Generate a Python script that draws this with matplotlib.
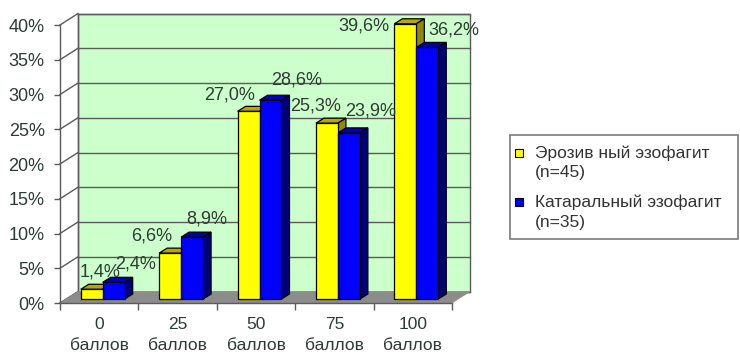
import matplotlib
matplotlib.use("Agg")
import matplotlib.pyplot as plt
from matplotlib.patches import Polygon, Rectangle

plt.rcParams['font.family'] = ['Liberation Sans', 'DejaVu Sans']

categories = ["0\nбаллов", "25\nбаллов", "50\nбаллов", "75\nбаллов", "100\nбаллов"]
erosive = [1.4, 6.6, 27.0, 25.3, 39.6]
catarrhal = [2.4, 8.9, 28.6, 23.9, 36.2]
series_names = ["Эрозив ный эзофагит\n(n=45)", "Катаральный эзофагит\n(n=35)"]
y_ticks = [0, 5, 10, 15, 20, 25, 30, 35, 40]

# label offsets in pixels (dx, dy) relative to the top of the front face
erosive_label_offsets = [(8, 17), (-18, 17), (-19, 16), (-11, 17), (-41, -2)]
catarrhal_label_offsets = [(22, 18), (15, 18), (26, 20), (22, 22), (27, 17)]

W, H, DPI = 740, 354, 100
fig = plt.figure(figsize=(W / DPI, H / DPI), dpi=DPI)
fig.patch.set_facecolor("white")

x0, x1, y0, y1 = 60, 452, 303, 25
ax = fig.add_axes([x0 / W, 1 - y0 / H, (x1 - x0) / W, (y0 - y1) / H])
ax.set_xlim(0, len(categories))
ax.set_ylim(0, 40)
ax.patch.set_visible(False)

px_x = (x1 - x0) / len(categories)
px_y = (y0 - y1) / 40.0

# depth offsets of the back wall, bars and bar faces (data units)
WX, WY = 18 / px_x, 11.5 / px_y
BY = 4 / px_y
SDX, SDY = 8 / px_x, 5 / px_y

grid_c = "#5a5a5a"
text_c = "#2e3b34"
n = len(categories)

# back wall
ax.add_patch(Polygon([(WX, WY), (n + WX, WY), (n + WX, 40 + WY), (WX, 40 + WY)],
                     closed=True, facecolor="#ccffcc", edgecolor=grid_c,
                     lw=1.0, clip_on=False, zorder=0))
# gridlines on the back wall and the side wall
for t in y_ticks:
    ax.plot([WX, n + WX], [t + WY, t + WY], color=grid_c, lw=1.0, clip_on=False, zorder=1)
    ax.plot([0, WX], [t, t + WY], color=grid_c, lw=1.0, clip_on=False, zorder=1)
ax.plot([WX, WX], [WY, 40 + WY], color=grid_c, lw=1.0, clip_on=False, zorder=1)

# floor
ax.add_patch(Polygon([(0, 0), (n, 0), (n + WX, WY), (WX, WY)], closed=True,
                     facecolor="#8c8c8c", edgecolor="#8c8c8c", lw=0.5,
                     clip_on=False, zorder=2))

bar_w = 0.28
faces = {
    "y": ("#ffff00", "#b8a800", "#8f8a00"),
    "b": ("#0000ff", "#0000b4", "#00007a"),
}


def draw_bar(left, value, cols):
    front, top, side = cols
    ax.bar(left, value, width=bar_w, bottom=BY, align="edge", color=front,
           edgecolor="black", lw=0.9, zorder=5, clip_on=False)
    t = BY + value
    ax.add_patch(Polygon([(left, t), (left + bar_w, t), (left + bar_w + SDX, t + SDY),
                          (left + SDX, t + SDY)], closed=True, facecolor=top,
                         edgecolor="black", lw=0.9, zorder=4, clip_on=False))
    ax.add_patch(Polygon([(left + bar_w, BY), (left + bar_w + SDX, BY + SDY),
                          (left + bar_w + SDX, t + SDY), (left + bar_w, t)], closed=True,
                         facecolor=side, edgecolor="black", lw=0.9, zorder=4, clip_on=False))


def fmt(v):
    return f"{v:.1f}".replace(".", ",") + "%"


for i in range(n):
    c = i + 0.5
    ly = c - 0.235
    lb = ly + bar_w
    draw_bar(ly, erosive[i], faces["y"])
    draw_bar(lb, catarrhal[i], faces["b"])

for i in range(n):
    c = i + 0.5
    ly = c - 0.235
    lb = ly + bar_w
    for left, v, off in ((ly, erosive[i], erosive_label_offsets[i]),
                         (lb, catarrhal[i], catarrhal_label_offsets[i])):
        ax.annotate(fmt(v), xy=(left + bar_w / 2, BY + v), xytext=off,
                    textcoords="offset pixels", ha="center", va="center",
                    fontsize=13, color=text_c, zorder=10, annotation_clip=False)

# axes
for s in ("top", "right"):
    ax.spines[s].set_visible(False)
for s in ("left", "bottom"):
    ax.spines[s].set_color(grid_c)
    ax.spines[s].set_linewidth(1.0)
    ax.spines[s].set_zorder(3)

ax.set_yticks(y_ticks)
ax.set_yticklabels([f"{t}%" for t in y_ticks])
ax.tick_params(axis="y", length=4, width=1.0, color=grid_c, labelsize=13,
               labelcolor=text_c, pad=7)
ax.set_xticks(range(n + 1))
ax.set_xticklabels([])
ax.set_xticks([i + 0.5 for i in range(n)], minor=True)
ax.set_xticklabels(categories, minor=True, fontsize=12.5, color=text_c, linespacing=1.5)
ax.tick_params(axis="x", which="major", length=5, width=1.0, color=grid_c)
ax.tick_params(axis="x", which="minor", length=0, pad=10)

# legend box
lx0, ly0, lx1, ly1 = 510, 135, 738, 239
fig.patches.append(Rectangle((lx0 / W, 1 - ly1 / H), (lx1 - lx0) / W, (ly1 - ly0) / H,
                             transform=fig.transFigure, facecolor="white",
                             edgecolor="#7a7a7a", lw=1.2))
legend_rows = [(153, "#ffff00"), (202, "#0000ff")]
for (yy, col), name in zip(legend_rows, series_names):
    fig.patches.append(Rectangle((515 / W, 1 - (yy + 4) / H), 8 / W, 8 / H,
                                 transform=fig.transFigure, facecolor=col,
                                 edgecolor="black", lw=0.8))
    first, second = name.split("\n")
    fig.text(535 / W, 1 - yy / H, first, ha="left", va="center", fontsize=12.5, color="#333333")
    fig.text(535 / W, 1 - (yy + 20) / H, second, ha="left", va="center", fontsize=12.5, color="#333333")

fig.savefig("out.png", dpi=DPI)
